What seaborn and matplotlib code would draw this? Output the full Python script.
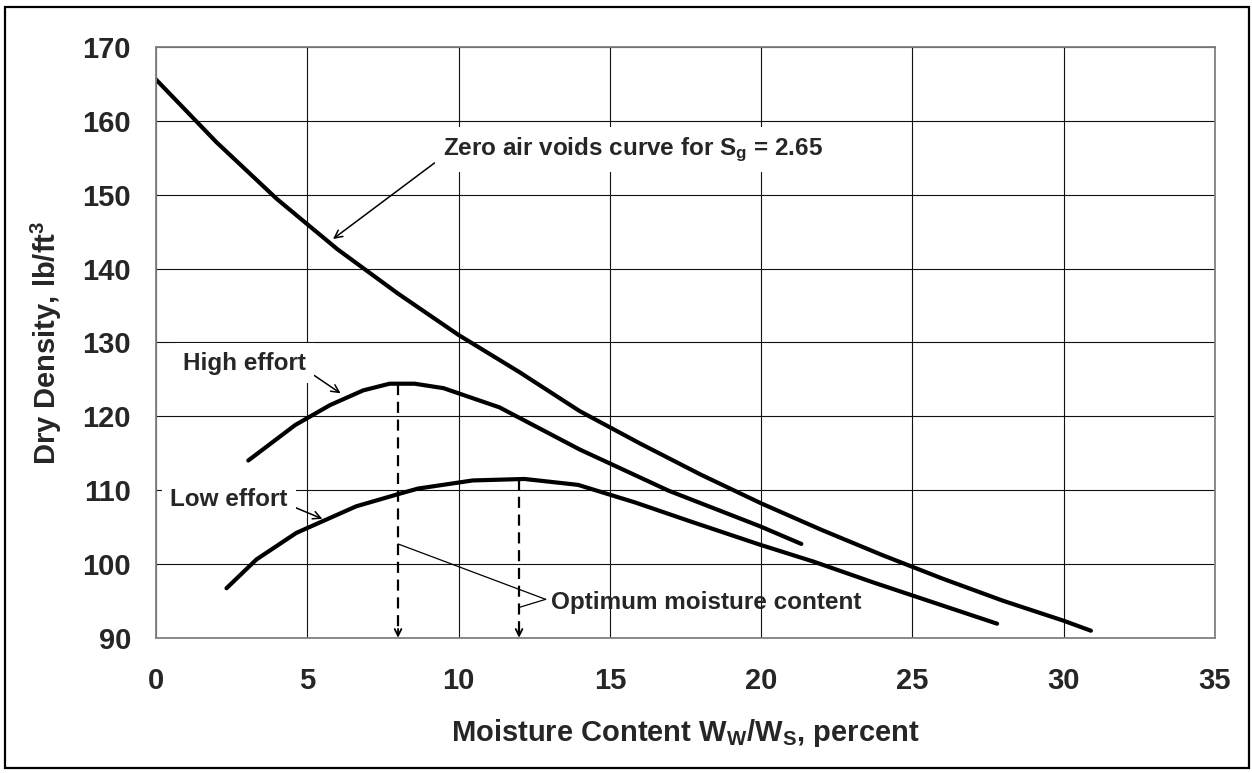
import matplotlib.pyplot as plt
import pandas as pd
import seaborn as sns
from matplotlib.patches import Rectangle

# zero air voids curve (Sg = 2.65)
zav_w = [0, 2, 4, 6, 8, 10, 12, 14, 16, 18, 20, 22, 24, 26, 28, 30, 30.9]
zav_d = [165.6, 157.1, 149.4, 142.6, 136.6, 131.0, 126.0, 120.7, 116.3, 112.1,
         108.2, 104.6, 101.2, 98.0, 95.0, 92.3, 90.95]

# high compaction effort
high_w = [3.05, 4.6, 5.75, 6.85, 7.72, 8.55, 9.5, 11.35, 14.0, 16.95, 19.96, 21.33]
high_d = [114.0, 118.8, 121.5, 123.5, 124.4, 124.4, 123.8, 121.2, 115.5, 109.9, 105.1, 102.7]

# low compaction effort
low_w = [2.33, 3.32, 4.64, 6.62, 8.05, 8.66, 10.47, 12.18, 13.95, 15.85, 17.63,
         19.96, 21.74, 23.7, 27.8]
low_d = [96.7, 100.6, 104.2, 107.8, 109.5, 110.2, 111.3, 111.5, 110.7, 108.3, 105.8,
         102.6, 100.3, 97.5, 91.9]

# optimum moisture contents and max dry densities
opt_w = [8, 12]
opt_d = [124.4, 111.5]

x_ticks = list(range(0, 36, 5))
y_ticks = list(range(90, 171, 10))

sns.set_style('white')
plt.rcParams['font.family'] = ['Liberation Sans', 'DejaVu Sans']
plt.rcParams['font.weight'] = 'bold'
plt.rcParams['mathtext.default'] = 'regular'

fig = plt.figure(figsize=(12.52, 7.73), dpi=100)
ax = fig.add_axes([0.1246, 0.175, 0.8458, 0.7642])

for w, d in [(zav_w, zav_d), (high_w, high_d), (low_w, low_d)]:
    sns.lineplot(x=w, y=d, ax=ax, color='black', lw=3, estimator=None, sort=False)

# dashed drop lines to the optimum moisture content
for w, d in zip(opt_w, opt_d):
    ax.plot([w, w], [d, 90.6], color='black', lw=1.6, ls=(0, (5, 3)))
    ax.annotate('', xy=(w, 90), xytext=(w, 91.2),
                arrowprops=dict(arrowstyle='->', lw=1.3, color='black',
                                shrinkA=0, shrinkB=0, mutation_scale=12))

ax.set_xlim(0, 35)
ax.set_ylim(90, 170)
ax.set_xticks(x_ticks)
ax.set_yticks(y_ticks)
ax.grid(True, color='#111111', lw=0.8)
ax.set_axisbelow(True)
for s in ax.spines.values():
    s.set_color('#808080')
    s.set_linewidth(1.3)
ax.tick_params(axis='both', direction='out', length=7, width=1, color='#555555',
               labelsize=21)
ax.tick_params(axis='y', pad=11)
ax.tick_params(axis='x', pad=14)

ax.set_xlabel('Moisture Content W$_W$/W$_S$, percent', fontsize=21, fontweight='bold')
ax.set_ylabel('Dry Density, lb/ft$^3$', fontsize=21, fontweight='bold')
ax.xaxis.set_label_coords(0.5, -0.135)
ax.yaxis.set_label_coords(-0.087, 0.5)

box = dict(fc='white', ec='none', pad=6)
arrow = dict(arrowstyle='->', lw=1.1, color='black', shrinkA=0, shrinkB=0,
             mutation_scale=14)
fs = 17.5

ax.annotate('Zero air voids curve for S$_g$ = 2.65', xy=(5.85, 144.0),
            xytext=(9.48, 156.1), fontsize=fs, fontweight='bold', ha='left',
            va='center', bbox=box, arrowprops=dict(arrow, relpos=(0, 0.25)))
ax.annotate('High effort', xy=(6.1, 123.1), xytext=(0.9, 127.2), fontsize=fs,
            fontweight='bold', ha='left', va='center', bbox=box,
            arrowprops=dict(arrow, relpos=(1, 0.2)))
ax.annotate('Low effort', xy=(5.5, 106.1), xytext=(0.46, 108.7), fontsize=fs,
            fontweight='bold', ha='left', va='center', bbox=box,
            arrowprops=dict(arrow, relpos=(1, 0.3)))

# bracket pointing at the two optimum lines
ax.text(13.06, 94.75, 'Optimum moisture content', fontsize=fs, fontweight='bold',
        ha='left', va='center')
ax.annotate('', xy=(opt_w[0], 102.7), xytext=(12.88, 95.2),
            arrowprops=dict(arrowstyle='-', lw=0.9, color='black', shrinkA=0, shrinkB=0))
ax.annotate('', xy=(opt_w[1], 94.1), xytext=(12.88, 95.2),
            arrowprops=dict(arrowstyle='-', lw=0.9, color='black', shrinkA=0, shrinkB=0))

fig.add_artist(Rectangle((0.004, 0.006), 0.994, 0.985, transform=fig.transFigure,
                         fill=False, ec='black', lw=1.6))

fig.savefig('out.png', dpi=100)
